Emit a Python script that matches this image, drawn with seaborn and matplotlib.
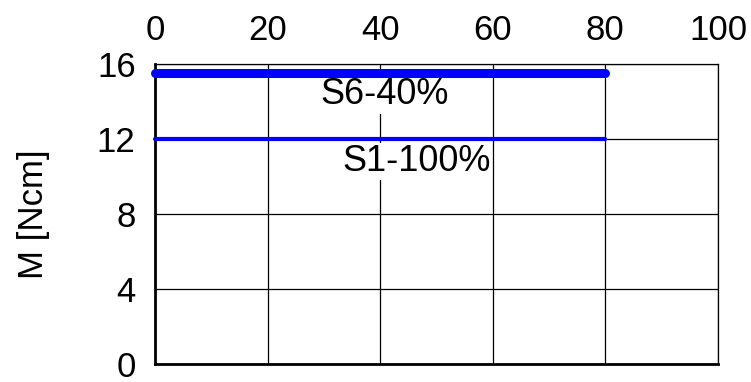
import pandas as pd
import seaborn as sns
import matplotlib.pyplot as plt

# data
x_vals = [0, 80]
s6_vals = [15.5, 15.5]
s1_vals = [12, 12]
series_names = ["S6-40%", "S1-100%"]
x_ticks = [0, 20, 40, 60, 80, 100]
y_ticks = [0, 4, 8, 12, 16]

df = pd.DataFrame({
    "x": x_vals + x_vals,
    "M": s6_vals + s1_vals,
    "series": [series_names[0]] * 2 + [series_names[1]] * 2,
})

sns.set_style("white")
plt.rcParams['font.family'] = ['Liberation Sans', 'DejaVu Sans']
plt.rcParams['text.color'] = 'black'
plt.rcParams['axes.labelcolor'] = 'black'
plt.rcParams['xtick.color'] = 'black'
plt.rcParams['ytick.color'] = 'black'

fig = plt.figure(figsize=(7.51, 3.82), dpi=100)
ax = fig.add_axes([0.2064, 0.047, 0.7496, 0.7855])

sns.lineplot(data=df, x="x", y="M", hue="series", size="series",
             sizes={series_names[0]: 6.5, series_names[1]: 3.0},
             palette={series_names[0]: "#0000ff", series_names[1]: "#0000ff"},
             legend=False, ax=ax, solid_capstyle="round", clip_on=False, zorder=3)

ax.set_xlim(0, 100)
ax.set_ylim(0, 16)
ax.set_xticks(x_ticks)
ax.set_yticks(y_ticks)
ax.xaxis.tick_top()
ax.tick_params(axis="both", length=0, labelsize=25)
ax.tick_params(axis="y", pad=14)
ax.tick_params(axis="x", pad=12)
ax.grid(True, color="black", linewidth=0.9)
ax.set_axisbelow(True)
ax.set_xlabel("")
ax.set_ylabel("M [Ncm]", fontsize=25, labelpad=34)

for side in ["top", "right"]:
    ax.spines[side].set_color("black")
    ax.spines[side].set_linewidth(0.9)
for side in ["left", "bottom"]:
    ax.spines[side].set_color("black")
    ax.spines[side].set_linewidth(2.0)

ax.text(40.7, 14.35, series_names[0], fontsize=26, ha="center", va="center",
        bbox=dict(facecolor="white", edgecolor="none", pad=1), zorder=2)
ax.text(46.5, 10.8, series_names[1], fontsize=26, ha="center", va="center",
        bbox=dict(facecolor="white", edgecolor="none", pad=1), zorder=2)

fig.savefig("out.png", dpi=100)
